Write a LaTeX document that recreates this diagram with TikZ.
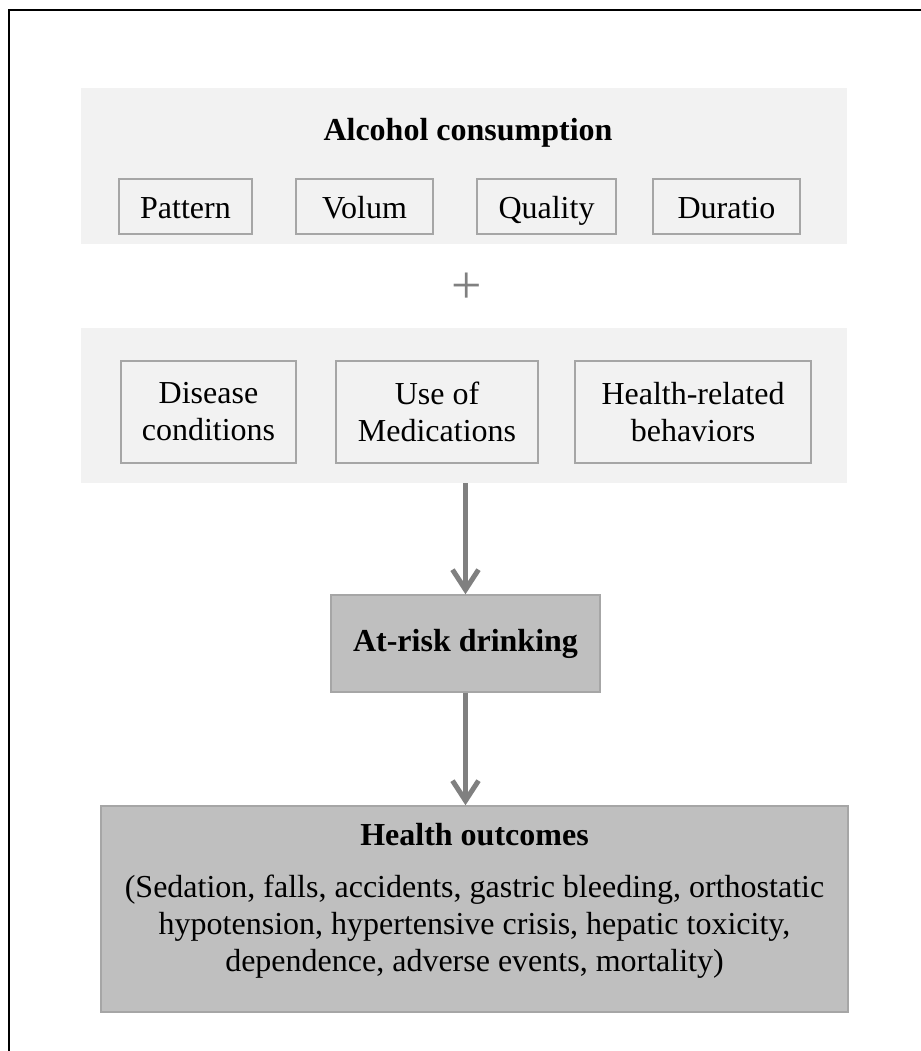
\documentclass[tikz,border=0pt]{standalone}
\usepackage{fontspec}
\setmainfont{Liberation Serif}
\usetikzlibrary{calc}
\usetikzlibrary{arrows.meta}

\definecolor{panelgray}{HTML}{F2F2F2}
\definecolor{edgegray}{HTML}{A6A6A6}
\definecolor{riskgray}{HTML}{BFBFBF}
\definecolor{arrowgray}{HTML}{808080}

\tikzset{
    panel/.style={rectangle, fill=panelgray, minimum width=383pt, inner sep=0pt},
    factor/.style={rectangle, draw=edgegray, line width=0.75pt, align=center, inner sep=0pt},
    riskbox/.style={rectangle, draw=edgegray, fill=riskgray, line width=0.75pt, inner sep=0pt},
    flow/.style={draw=arrowgray, line width=2.5pt, -{Straight Barb[length=10pt, width=13pt]}}
}

\begin{document}
\begin{tikzpicture}[x=0.5pt, y=-0.5pt, font=\fontsize{16pt}{18.5pt}\selectfont]
    \useasboundingbox (0,0) rectangle (921,1051);
    \draw [line width=1pt] (921,10) -- (9,10) -- (9,1051);

    % alcohol consumption
    \node [panel, minimum height=78pt] (alcohol) at (464,166) {};
    \node [anchor=base, font=\fontsize{16pt}{18.5pt}\bfseries] (alcoholtitle) at (468,140) {Alcohol consumption};
    \node [factor, minimum width=66.5pt, minimum height=27.5pt, text height=11.5pt, text depth=0pt] (pattern) at (185.5,206.5) {Pattern};
    \node [factor, minimum width=68.5pt, minimum height=27.5pt, text height=11.5pt, text depth=0pt] (volume) at (364.5,206.5) {Volum};
    \node [factor, minimum width=69.5pt, minimum height=27.5pt, text height=11.5pt, text depth=0pt] (quality) at (546.5,206.5) {Quality};
    \node [factor, minimum width=73.5pt, minimum height=27.5pt, text height=11.5pt, text depth=0pt] (duration) at (726.5,206.5) {Duratio};

    \node [text=arrowgray, font=\fontsize{27pt}{30pt}\selectfont, inner sep=0pt] (plus) at (467,288) {+};

    % other factors
    \node [panel, minimum height=77.5pt] (factors) at (464,405.5) {};
    \node [factor, minimum width=87.5pt, minimum height=51pt] (disease) at (208.5,412) {Disease\\conditions};
    \node [factor, minimum width=101pt, minimum height=51pt] (medication) at (437,412) {Use of\\Medications};
    \node [factor, minimum width=118pt, minimum height=51pt] (behavior) at (693,412) {Health-related\\behaviors};

    % outcome chain
    \node [riskbox, minimum width=134.5pt, minimum height=48.5pt, font=\fontsize{16pt}{18.5pt}\bfseries] (atrisk) at (465.5,643.5) {At-risk drinking};
    \node [riskbox, minimum width=373.5pt, minimum height=103pt] (outcomes) at (474.5,909) {};
    \node [anchor=base, font=\fontsize{16pt}{18.5pt}\bfseries] (outtitle) at (474.5,845) {Health outcomes};
    \node [anchor=base, align=center, inner sep=0pt] (outlist) at (474.5,971) {(Sedation, falls, accidents, gastric bleeding, orthostatic\\hypotension, hypertensive crisis, hepatic toxicity,\\dependence, adverse events, mortality)};

    \draw [flow] (factors.south -| atrisk.north) -- (atrisk.north);
    \draw [flow] (atrisk.south) -- (outcomes.north -| atrisk.south);
\end{tikzpicture}
\end{document}
